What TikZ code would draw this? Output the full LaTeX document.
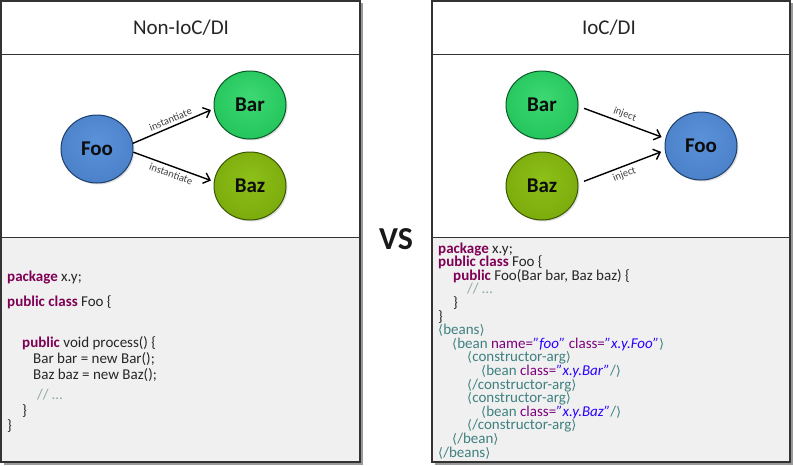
\documentclass[tikz,border=0pt]{standalone}
\usepackage{fontspec}
\setmainfont{Carlito}
\newfontfamily\symfont{DejaVu Sans}
\usetikzlibrary{shapes.geometric,arrows.meta,shadows}

\definecolor{keyword}{HTML}{7F0055}
\definecolor{comment}{HTML}{8FA89A}
\definecolor{xmltag}{HTML}{3F8080}
\definecolor{xmlattr}{HTML}{7F007F}
\definecolor{xmlval}{HTML}{2A00FF}
\definecolor{codebg}{HTML}{F0F0F0}
\definecolor{panelshadow}{HTML}{9A9A9A}
\definecolor{foolight}{HTML}{5A92DA}
\definecolor{foofill}{HTML}{4A80C8}
\definecolor{foorim}{HTML}{2C5A98}
\definecolor{bluedark}{HTML}{1E3F6C}
\definecolor{barlight}{HTML}{3ED873}
\definecolor{barfill}{HTML}{22C45A}
\definecolor{barrim}{HTML}{139040}
\definecolor{bardark}{HTML}{0A5A28}
\definecolor{bazlight}{HTML}{8DC018}
\definecolor{bazfill}{HTML}{7AAA0C}
\definecolor{bazrim}{HTML}{5A8500}
\definecolor{bazdark}{HTML}{3A5800}

\pgfdeclareradialshading{fooball}{\pgfpoint{0bp}{6bp}}{color(0bp)=(foolight); color(30bp)=(foofill); color(44bp)=(foorim); color(50bp)=(foorim)}
\pgfdeclareradialshading{barball}{\pgfpoint{0bp}{6bp}}{color(0bp)=(barlight); color(30bp)=(barfill); color(44bp)=(barrim); color(50bp)=(barrim)}
\pgfdeclareradialshading{bazball}{\pgfpoint{0bp}{6bp}}{color(0bp)=(bazlight); color(30bp)=(bazfill); color(44bp)=(bazrim); color(50bp)=(bazrim)}

\newcommand{\kw}[1]{\textcolor{keyword}{\bfseries #1}}
\newcommand{\cmt}[1]{\textcolor{comment}{#1}}
\newcommand{\xtag}[1]{\textcolor{xmltag}{#1}}
\newcommand{\xattr}[1]{\textcolor{xmlattr}{#1}}
\newcommand{\xval}[1]{\textcolor{xmlval}{\itshape #1}}
\newcommand{\ltag}{{\symfont\fontsize{13}{13}\selectfont ⟨}}
\newcommand{\rtag}{{\symfont\fontsize{13}{13}\selectfont ⟩}}

\begin{document}
\begin{tikzpicture}[x=1pt,y=-1pt,
	ball/.style={ellipse, minimum width=72pt, minimum height=68pt, inner sep=0pt,
		line width=1pt, font=\fontsize{21}{22}\selectfont\bfseries, text=black!95,
		drop shadow={opacity=0.25, shadow xshift=1.5pt, shadow yshift=-1.5pt}},
	fooball/.style={ball, shading=fooball, draw=bluedark},
	barball/.style={ball, shading=barball, draw=bardark},
	bazball/.style={ball, shading=bazball, draw=bazdark},
	arrowline/.style={line width=1.4pt, -{Straight Barb[length=6pt,width=11pt]}},
	arrowlabel/.style={midway, sloped, font=\fontsize{10.5}{11}\selectfont, text=black!75, inner sep=3pt},
	paneltitle/.style={font=\fontsize{21}{22}\selectfont, text=black!85},
	code/.style={anchor=base west, inner sep=0pt, font=\fontsize{15}{15}\selectfont, text=black!85}]
	\useasboundingbox (0,0) rectangle (793,466);

	% panels
	\foreach \l/\r in {1/360, 432/790}
	{
		\fill[panelshadow] (\l+2.5,3) rectangle (\r+2.5,464.5);
		\fill[white] (\l,1) rectangle (\r,462);
		\fill[codebg] (\l,237) rectangle (\r,462);
		\draw[line width=1.2pt, black!80] (\l,1) rectangle (\r,462);
		\draw[line width=1pt, black!80] (\l,54) -- (\r,54);
		\draw[line width=1pt, black!80] (\l,237) -- (\r,237);
	}

	\node[paneltitle] (ltitle) at (181,28) {Non-IoC/DI};
	\node[paneltitle] (rtitle) at (609,28) {IoC/DI};
	\node[font=\fontsize{32}{32}\selectfont\bfseries, text=black!90] (vs) at (396,239) {VS};

	% Non-IoC/DI
	\node[fooball] (lfoo) at (97,149) {Foo};
	\node[barball] (lbar) at (250,105) {Bar};
	\node[bazball] (lbaz) at (250,186) {Baz};
	\draw[arrowline, shorten >=3pt] (lfoo.9) -- (lbar.186) node[arrowlabel, above] {instantiate};
	\draw[arrowline, shorten >=3pt] (lfoo.-5) -- (lbaz.173) node[arrowlabel, below] {instantiate};

	% IoC/DI
	\node[barball] (rbar) at (542,105) {Bar};
	\node[bazball] (rbaz) at (542,186) {Baz};
	\node[fooball] (rfoo) at (701,146) {Foo};
	\draw[arrowline, shorten <=6pt, shorten >=4pt] (rbar.-2) -- (rfoo.168) node[arrowlabel, above] {inject};
	\draw[arrowline, shorten <=6pt, shorten >=4pt] (rbaz.4) -- (rfoo.187) node[arrowlabel, below] {inject};

	% code
	\foreach \px/\py/\txt [count=\i] in {
		7/281/{\kw{package} x.y;},
		7/306/{\kw{public class} Foo \{},
		22/347/{\kw{public} void process() \{},
		33/363/{Bar bar = new Bar();},
		33/379/{Baz baz = new Baz();},
		37/399/{\cmt{// \ldots}},
		22/415/{\}},
		7/430/{\}}}
		\node[code] (lcode\i) at (\px,\py) {\txt};

	\foreach \px/\txt [count=\i] in {
		438/{\kw{package} x.y;},
		438/{\kw{public class} Foo \{},
		453/{\kw{public} Foo(Bar bar, Baz baz) \{},
		467/{\cmt{// \ldots}},
		453/{\}},
		438/{\}},
		438/{\xtag{\ltag beans\rtag}},
		452/{\xtag{\ltag bean} \xattr{name=}\xval{"foo"} \xattr{class=}\xval{"x.y.Foo"}\xtag{\rtag}},
		467/{\xtag{\ltag constructor-arg\rtag}},
		481/{\xtag{\ltag bean} \xattr{class=}\xval{"x.y.Bar"}\xtag{/\rtag}},
		467/{\xtag{\ltag/constructor-arg\rtag}},
		467/{\xtag{\ltag constructor-arg\rtag}},
		481/{\xtag{\ltag bean} \xattr{class=}\xval{"x.y.Baz"}\xtag{/\rtag}},
		467/{\xtag{\ltag/constructor-arg\rtag}},
		452/{\xtag{\ltag/bean\rtag}},
		438/{\xtag{\ltag/beans\rtag}}}
		\node[code] (rcode\i) at (\px,{253+13.6*(\i-1)}) {\txt};
\end{tikzpicture}
\end{document}
